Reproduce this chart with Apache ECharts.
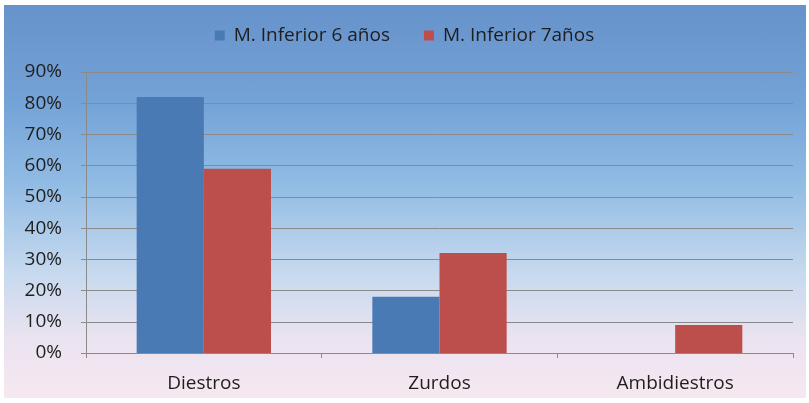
<!DOCTYPE html>
<html>
<head>
<meta charset="utf-8">
<script src="https://cdn.jsdelivr.net/npm/echarts@6/dist/echarts.min.js"></script>
<style>
  html, body { margin: 0; padding: 0; background: #fff; }
  .frame {
    position: absolute;
    left: 4px; top: 5px; width: 802px; height: 393px;
    background: linear-gradient(to bottom, #6792cb 0%, #74a3d7 25%, #90bbe4 45%, #c6d9ee 68%, #ebe3f0 85%, #f6e8f0 100%);
  }
  #chart { position: absolute; left: 0; top: 0; width: 809px; height: 403px; }
</style>
</head>
<body>
<div class="frame"></div>
<div id="chart"></div>
<script>
// categorías y valores (%)
const categories = ['Diestros', 'Zurdos', 'Ambidiestros'];
const seriesNames = ['M. Inferior 6 años', 'M. Inferior 7años'];
const values6 = [82, 18, 0];
const values7 = [59, 32, 9];

const textColor = '#1e1e1e';
const gridColor = '#8a8a8a';
const font = 'Open Sans';

const chart = echarts.init(document.getElementById('chart'));

const option = {
  backgroundColor: 'transparent',
  textStyle: { fontFamily: font },
  legend: {
    top: 21,
    left: 'center',
    itemWidth: 10,
    itemHeight: 10,
    itemGap: 34,
    icon: 'rect',
    textStyle: { color: textColor, fontSize: 19, fontFamily: font, padding: [0, 0, 0, 4] },
    data: seriesNames
  },
  grid: { left: 86, right: 16, top: 72, bottom: 50 },
  xAxis: {
    type: 'category',
    data: categories,
    axisLine: { lineStyle: { color: gridColor, width: 1 } },
    axisTick: { show: true, length: 5, lineStyle: { color: gridColor } },
    axisLabel: { color: textColor, fontSize: 19, margin: 21, fontFamily: font }
  },
  yAxis: {
    type: 'value',
    min: 0,
    max: 90,
    interval: 10,
    axisLine: { show: true, lineStyle: { color: gridColor } },
    axisTick: { show: true, length: 5, lineStyle: { color: gridColor } },
    axisLabel: { color: textColor, fontSize: 19, margin: 24, formatter: '{value}%', fontFamily: font },
    splitLine: { lineStyle: { color: gridColor, width: 1 } }
  },
  series: [
    {
      name: seriesNames[0],
      type: 'bar',
      data: values6,
      barGap: '0%',
      barCategoryGap: '43%',
      itemStyle: { color: '#4a7ab4' }
    },
    {
      name: seriesNames[1],
      type: 'bar',
      data: values7,
      barGap: '0%',
      barCategoryGap: '43%',
      itemStyle: { color: '#bc4f4c' }
    }
  ]
};

chart.setOption(option);
</script>
</body>
</html>
